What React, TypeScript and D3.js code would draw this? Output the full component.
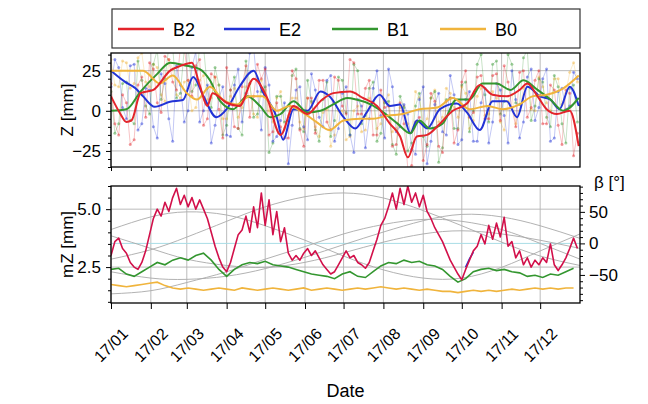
import React, { useEffect, useRef } from 'react';
import * as d3 from 'd3';

// ---- data ----
const seriesNames = ['B2', 'E2', 'B1', 'B0'];
const seriesColors = ['#e3242b', '#2233d6', '#33962f', '#f0b43c'];

const monthDays = [0, 31, 59, 90, 120, 151, 181, 212, 243, 273, 304, 334, 365];

// raw Z [mm], days 0, 6, 12, ... (A) and 3, 9, 15, ... (B)
const b2RawA = [17, -15, 5, -18, 21, 30, 5, 34, 18, 40, 19, 28, -9, 23, 1, 27, -10, 15, -4, 29, 26, -13, -10, -17, 20, -22, 8, 19, -7, 21, 3, 32, -2, 14, -15, 13, 3, -21, -8, -34, -4, -21, 6, -26, 8, -12, 25, -1, 22, -5, 23, 28, 2, 24, -4, 19, -8, 16, -9, 13, -28];
const b2RawB = [-8, 10, -21, 16, -4, 26, -1, 32, 13, 40, 9, 32, -5, 21, -17, 13, -11, 28, 9, 20, -15, 5, -17, 25, -12, 8, -14, 19, -12, 19, -2, 30, -2, 19, -15, 2, -22, 5, -36, -7, -31, 11, -22, 6, -20, 18, -4, 21, -5, 22, -6, 18, -10, 25, 2, 25, -8, 13, -21, 11, -14];
const e2RawA = [15, 27, -5, 29, -8, 13, -17, 17, -19, 16, 0, 37, 0, -20, 8, -15, 16, -7, 36, 12, 27, -19, -6, -33, 13, -10, 23, -4, 19, -19, 11, -15, 7, -23, 14, -3, 26, -13, 4, -24, 7, -33, 4, -13, 22, -21, 7, -19, 5, -20, 17, -3, 25, -17, 21, -6, 20, -19, 12, 1, 24];
const e2RawB = [32, 2, 28, -12, 14, -10, 23, -5, 28, -7, 27, -7, 16, -9, 15, -16, 26, 11, 40, -12, 16, -16, 5, -9, 15, -18, 13, -10, 22, -11, 15, -26, 3, -5, 25, -17, 15, -10, -2, -27, 15, -19, 11, -15, 10, -18, 12, -19, 14, -7, 13, -20, 7, -7, 26, 2, 26, -17, 14, 3, 20];
const b1RawA = [12, -8, 18, -8, 19, -2, 38, 20, 40, 11, 40, 16, 40, 2, 16, -9, 21, -15, 17, -2, 15, -20, 9, -6, 26, -13, 6, -19, 18, -6, 19, -15, 25, -3, 18, -14, 6, -27, 2, -20, 11, -22, 12, -23, 8, -11, 18, 0, 35, -7, 31, 6, 29, 4, 38, 3, 18, -10, 15, -20, 16];
const b1RawB = [-14, 17, -6, 31, 3, 29, 7, 40, 8, 38, 12, 40, 14, 27, -15, 13, -11, 31, -4, 12, -26, 9, -7, 22, -11, 19, -12, 7, -16, 21, -1, 29, -8, 14, -19, 5, -21, 9, -25, 3, -16, 8, -32, 7, -11, 16, -13, 29, 10, 29, -2, 35, 5, 33, -6, 20, -4, 22, -8, 14, -7];
const b0RawA = [32, 15, 30, 17, 36, 15, 27, 6, 26, 8, 19, 2, 22, 8, 16, -5, 14, 2, 17, -4, 13, -7, 12, -3, 8, -11, 5, -16, 1, -15, 0, -16, 3, -12, 5, -8, 10, -11, 3, -13, 8, -5, 13, -4, 11, -4, 11, -6, 14, -2, 8, -12, 10, 0, 17, 0, 15, 0, 20, 11, 30];
const b0RawB = [16, 31, 14, 33, 18, 29, 10, 32, 10, 18, 0, 19, 7, 21, -5, 9, -4, 15, -2, 19, 0, 8, -11, 8, -7, 8, -10, -1, -22, 0, -18, 0, -13, 8, -11, 6, -13, 2, -8, 12, -8, 8, -7, 14, 2, 15, -11, 9, -3, 12, -7, 6, -8, 14, 1, 21, 5, 20, 4, 24, 18];

// smoothed Z [mm] as [day, value]
const b2Smooth = [[0, 9], [7, -1.5], [12, -7], [16, -6], [23, 11], [33, 13], [46, 25], [54, 28], [63, 30], [69, 16], [75, 3], [79, 11], [90, 5], [100, 3], [111, 20], [121, 9], [132, -15], [142, 3], [153, -2], [163, 6], [173, 11], [186, 12], [196, 8], [207, 3], [217, -8], [225, -16], [231, -29], [238, -16], [246, -15], [256, -8], [266, 0], [277, 4.5], [287, 16], [297, 10], [308, 9], [318, 13], [324, 17], [332, 9], [339, 1], [347, -2], [357, 0], [364, -22]];
const e2Smooth = [[0, 25], [11, 18], [19, 14], [25, 9], [34, 2.5], [46, 5.6], [56, 6.7], [64, 21], [72, 9], [82, -4], [90, 1], [100, 15], [111, 25], [118, 12], [129, -4], [134, -18], [142, 1], [153, 0], [163, 12], [170, 9], [181, -4], [190, -11], [199, -1], [209, 10], [217, 3], [225, 4], [233, -14], [238, -6], [246, -11], [256, 1], [269, 4.5], [277, -1], [287, -12], [297, 6], [308, 6], [316, -4], [324, 15], [334, 9], [342, 7], [349, 1], [357, 15], [364, 3]];
const b1Smooth = [[0, 0], [12, 1], [23, 12], [36, 23], [46, 30], [59, 28], [69, 26], [77, 19], [85, 6], [95, 1], [106, 9], [116, 3], [124, -4], [132, -2], [142, 6], [153, -1], [163, 0], [173, 4], [184, 8], [191, 7], [202, 4], [212, -1], [223, -8], [233, -14], [240, -6], [248, -11], [258, -8], [269, 7], [279, 7], [289, 17], [300, 17], [311, 13], [321, 19], [332, 13], [342, 7], [352, 0], [364, 8]];
const b0Smooth = [[0, 25], [12, 25], [25, 25], [38, 17], [48, 22], [59, 11], [67, 7], [77, 15], [87, 7], [98, 4], [108, 9], [118, 9], [129, 0], [139, 3], [149, -1], [160, -7], [170, -12], [181, -6], [194, -5], [204, -5], [215, -3], [227, -2], [240, 1], [254, 2], [266, 8], [279, 1], [293, 3], [305, 1], [318, 4], [328, 9], [339, 10], [352, 14], [364, 22]];

// mZ [mm]
const b2MZ = [3.0, 3.6, 3.75, 3.3, 3.1, 2.7, 2.5, 2.4, 2.7, 3.2, 3.9, 4.6, 5.0, 4.7, 5.3, 4.9, 5.5, 5.9, 5.2, 5.6, 5.1, 5.5, 5.0, 5.4, 5.0, 4.6, 4.0, 3.4, 2.9, 2.5, 2.3, 2.7, 3.3, 3.9, 4.1, 4.7, 4.0, 5.1, 4.2, 5.7, 4.3, 5.4, 3.9, 4.9, 3.6, 4.2, 3.1, 2.8, 3.0, 2.8, 3.1, 3.3, 3.0, 3.2, 2.9, 2.6, 2.4, 2.2, 2.3, 2.6, 2.9, 3.2, 2.9, 3.0, 2.7, 2.6, 2.45, 2.7, 3.2, 3.7, 4.3, 4.6, 5.1, 5.7, 5.0, 5.9, 5.2, 6.0, 5.3, 5.7, 5.1, 5.6, 4.9, 4.6, 4.2, 3.9, 3.6, 3.2, 2.8, 2.5, 2.2, 1.95, 2.4, 2.8, 3.2, 3.4, 3.9, 3.5, 4.3, 3.7, 4.4, 3.8, 4.65, 3.4, 3.6, 2.9, 3.2, 2.6, 2.9, 2.5, 2.8, 2.6, 2.9, 2.7, 3.5, 2.6, 2.35, 2.6, 2.9, 3.3, 3.75, 3.3];
const e2MZDays = [276, 279, 282];
const e2MZ = [2.5, 2.85, 3.15];
const b1MZ = [2.4, 2.45, 2.2, 2.1, 2.3, 2.5, 2.7, 2.6, 2.8, 2.9, 2.8, 3.0, 3.1, 2.8, 2.4, 2.1, 2.4, 2.6, 2.7, 2.65, 2.75, 2.6, 2.55, 2.5, 2.4, 2.3, 2.2, 2.15, 2.1, 2.0, 2.2, 2.3, 2.1, 2.05, 2.3, 2.55, 2.7, 2.65, 2.8, 2.7, 2.75, 2.6, 2.55, 2.4, 2.1, 1.85, 2.0, 2.3, 2.4, 2.45, 2.35, 2.4, 2.3, 2.25, 2.1, 2.15, 2.05, 2.2, 2.15, 2.3, 2.45];
const b0MZ = [1.75, 1.7, 1.65, 1.7, 1.75, 1.8, 1.85, 1.7, 1.6, 1.55, 1.6, 1.55, 1.5, 1.55, 1.6, 1.55, 1.5, 1.6, 1.55, 1.5, 1.55, 1.6, 1.55, 1.5, 1.55, 1.6, 1.5, 1.55, 1.6, 1.55, 1.5, 1.55, 1.6, 1.55, 1.6, 1.65, 1.6, 1.55, 1.6, 1.55, 1.5, 1.55, 1.5, 1.45, 1.45, 1.4, 1.45, 1.5, 1.45, 1.5, 1.45, 1.5, 1.55, 1.5, 1.55, 1.6, 1.55, 1.6, 1.55, 1.6, 1.6];

// beta angle [deg] of orbital planes, at month starts
const betaP1 = [-25, -10, 10, 35, 58, 74, 80, 72, 52, 28, 2, -20, -35];
const betaP2 = [22, 42, 50, 45, 28, 5, -20, -42, -55, -55, -38, -12, 15];
const betaP3 = [-45, -55, -57, -52, -40, -22, -2, 18, 36, 46, 42, 28, 8];
const betaP4 = [12, -8, -25, -35, -38, -30, -15, 2, 15, 20, 15, 5, -8];
const betaP5 = [-80, -75, -62, -45, -25, -5, 15, 30, 38, 35, 22, 0, -25];

const zTicks = [-25, 0, 25];
const mzTicks = [2.5, 5.0];
const betaTicks = [-50, 0, 50];

const FONT = '"Liberation Sans", Arial, sans-serif';
const T0 = Date.UTC(2017, 0, 1);
const dayDate = (d: number) => new Date(T0 + d * 86400000);

const App: React.FC = () => {
  const svgRef = useRef<SVGSVGElement | null>(null);

  useEffect(() => {
    if (!svgRef.current) return;
    const svg = d3.select(svgRef.current);
    svg.selectAll('*').remove();

    const left = 111, right = 580;
    const top0 = 53, top1 = 167, bot0 = 186, bot1 = 303;

    const x = d3.scaleUtc().domain([new Date(T0), new Date(Date.UTC(2018, 0, 1))]).range([left, right]);
    const yZ = d3.scaleLinear().domain([-35, 36]).range([top1, top0]);
    const yM = d3.scaleLinear().domain([0.95, 6.0]).range([bot1, bot0]);
    const yB = d3.scaleLinear().domain([-94.5, 91]).range([bot1, bot0]);
    const months = d3.utcMonth.range(new Date(T0), new Date(Date.UTC(2018, 0, 1)));

    const defs = svg.append('defs');
    defs.append('clipPath').attr('id', 'clipTop').append('rect')
      .attr('x', left).attr('y', top0).attr('width', right - left).attr('height', top1 - top0);
    defs.append('clipPath').attr('id', 'clipBot').append('rect')
      .attr('x', left).attr('y', bot0).attr('width', right - left).attr('height', bot1 - bot0);

    // grids
    const grid = (y0: number, y1: number, ys: number[]) => {
      const g = svg.append('g').attr('stroke', '#b3b3b3').attr('stroke-width', 0.9);
      months.forEach(m => g.append('line').attr('x1', x(m)).attr('x2', x(m)).attr('y1', y0).attr('y2', y1));
      ys.forEach(v => g.append('line').attr('x1', left).attr('x2', right).attr('y1', v).attr('y2', v));
    };
    grid(top0, top1, zTicks.map(v => yZ(v)));
    grid(bot0, bot1, mzTicks.map(v => yM(v)));

    // ---- top panel ----
    const gt = svg.append('g').attr('clip-path', 'url(#clipTop)');
    const rawA = [b2RawA, e2RawA, b1RawA, b0RawA];
    const rawB = [b2RawB, e2RawB, b1RawB, b0RawB];
    const rawPts = rawA.map((a, k) => {
      const pts: [number, number][] = [];
      a.forEach((v, i) => {
        pts.push([i * 6, v]);
        if (i < rawB[k].length) pts.push([i * 6 + 3, rawB[k][i]]);
      });
      return pts;
    });
    const rawLine = d3.line<[number, number]>().x(d => x(dayDate(d[0]))).y(d => yZ(d[1]));
    [3, 2, 1, 0].forEach(k => {
      gt.append('path').attr('d', rawLine(rawPts[k]) || '')
        .attr('fill', 'none').attr('stroke', seriesColors[k]).attr('stroke-opacity', 0.3).attr('stroke-width', 0.9);
      gt.selectAll(null).data(rawPts[k]).enter().append('circle')
        .attr('cx', d => x(dayDate(d[0]))).attr('cy', d => yZ(d[1])).attr('r', 1.5)
        .attr('fill', seriesColors[k]).attr('fill-opacity', 0.45);
    });
    const smooth = [b2Smooth, e2Smooth, b1Smooth, b0Smooth];
    const smLine = d3.line<number[]>().x(d => x(dayDate(d[0]))).y(d => yZ(d[1])).curve(d3.curveMonotoneX);
    [1, 2, 3, 0].forEach(k => {
      gt.append('path').attr('d', smLine(smooth[k]) || '')
        .attr('fill', 'none').attr('stroke', seriesColors[k]).attr('stroke-width', 2).attr('stroke-linejoin', 'round');
    });

    // ---- bottom panel ----
    const gb = svg.append('g').attr('clip-path', 'url(#clipBot)');
    gb.append('line').attr('x1', left).attr('x2', right).attr('y1', yB(0)).attr('y2', yB(0))
      .attr('stroke', '#a8dde6').attr('stroke-width', 1);
    const betaLine = d3.line<number>().x((_, i) => x(dayDate(monthDays[i]))).y(d => yB(d)).curve(d3.curveNatural);
    [betaP1, betaP2, betaP3, betaP4, betaP5].forEach(b => {
      gb.append('path').attr('d', betaLine(b) || '').attr('fill', 'none')
        .attr('stroke', '#a9a9a9').attr('stroke-width', 0.9);
    });
    const mzLine = (step: number) => d3.line<number>().x((_, i) => x(dayDate(i * step))).y(d => yM(d));
    gb.append('path').attr('d', mzLine(6)(b0MZ) || '').attr('fill', 'none').attr('stroke', '#f0b43c').attr('stroke-width', 1.6);
    gb.append('path').attr('d', mzLine(6)(b1MZ) || '').attr('fill', 'none').attr('stroke', '#33962f').attr('stroke-width', 1.6);
    const e2Line = d3.line<number>().x((_, i) => x(dayDate(e2MZDays[i]))).y(d => yM(d));
    gb.append('path').attr('d', e2Line(e2MZ) || '').attr('fill', 'none').attr('stroke', '#2233d6').attr('stroke-width', 1.6);
    gb.append('path').attr('d', mzLine(3)(b2MZ) || '').attr('fill', 'none').attr('stroke', '#d2104a').attr('stroke-width', 1.6).attr('stroke-linejoin', 'round');

    // ---- axes ----
    const styleAxis = (g: d3.Selection<SVGGElement, unknown, null, undefined>) => {
      g.select('.domain').remove();
      g.selectAll('line').attr('stroke', '#000').attr('stroke-width', 1);
      g.selectAll('text').attr('font-family', FONT).attr('font-size', 17).attr('fill', '#000');
    };
    const fmtMinus = (d: number) => (d < 0 ? '\u2212' + Math.abs(d) : String(d));

    const zAx = svg.append('g').attr('transform', `translate(${left},0)`)
      .call(d3.axisLeft(yZ).tickValues(zTicks).tickSize(5).tickPadding(5).tickFormat(d => fmtMinus(+d)));
    styleAxis(zAx);
    const zMin = svg.append('g').attr('transform', `translate(${left},0)`)
      .call(d3.axisLeft(yZ).tickValues(d3.range(-35, 36, 5).filter(v => v % 25 !== 0)).tickSize(3).tickFormat(() => ''));
    styleAxis(zMin);

    const mAx = svg.append('g').attr('transform', `translate(${left},0)`)
      .call(d3.axisLeft(yM).tickValues(mzTicks).tickSize(5).tickPadding(5).tickFormat(d => (+d).toFixed(1)));
    styleAxis(mAx);
    const mMin = svg.append('g').attr('transform', `translate(${left},0)`)
      .call(d3.axisLeft(yM).tickValues(d3.range(1, 6.01, 0.5).filter(v => v !== 2.5 && v !== 5)).tickSize(3).tickFormat(() => ''));
    styleAxis(mMin);

    const bAx = svg.append('g').attr('transform', `translate(${right},0)`)
      .call(d3.axisRight(yB).tickValues(betaTicks).tickSize(5).tickPadding(4).tickFormat(d => fmtMinus(+d)));
    styleAxis(bAx);
    const bMin = svg.append('g').attr('transform', `translate(${right},0)`)
      .call(d3.axisRight(yB).tickValues(d3.range(-90, 91, 10).filter(v => v % 50 !== 0)).tickSize(3).tickFormat(() => ''));
    styleAxis(bMin);

    const xTop = svg.append('g').attr('transform', `translate(0,${top1})`)
      .call(d3.axisBottom(x).tickValues(months).tickSize(4).tickFormat(() => ''));
    styleAxis(xTop);
    const xBot = svg.append('g').attr('transform', `translate(0,${bot1})`)
      .call(d3.axisBottom(x).tickValues(months).tickSize(6).tickFormat(() => ''));
    styleAxis(xBot);

    const fmt = d3.utcFormat('%y/%m');
    svg.append('g').selectAll('text').data(months).enter().append('text')
      .attr('transform', d => `translate(${x(d)},${bot1 + 42}) rotate(-45)`)
      .attr('text-anchor', 'middle').attr('dy', '0.35em')
      .attr('font-family', FONT).attr('font-size', 16).text(d => fmt(d));

    // frames
    [[top0, top1], [bot0, bot1]].forEach(([a, b]) => {
      svg.append('rect').attr('x', left).attr('y', a).attr('width', right - left).attr('height', b - a)
        .attr('fill', 'none').attr('stroke', '#000').attr('stroke-width', 1.3);
    });

    // axis labels
    svg.append('text').attr('transform', `translate(73,${(top0 + top1) / 2}) rotate(-90)`)
      .attr('text-anchor', 'middle').attr('font-family', FONT).attr('font-size', 17).text('Z [mm]');
    svg.append('text').attr('transform', `translate(73,${(bot0 + bot1) / 2}) rotate(-90)`)
      .attr('text-anchor', 'middle').attr('font-family', FONT).attr('font-size', 17).text('mZ [mm]');
    svg.append('text').attr('x', 594).attr('y', 188).attr('font-family', FONT).attr('font-size', 17).text('β [°]');
    svg.append('text').attr('x', (left + right) / 2).attr('y', 397).attr('text-anchor', 'middle')
      .attr('font-family', FONT).attr('font-size', 18).text('Date');

    // legend
    const lg = svg.append('g');
    lg.append('rect').attr('x', 112).attr('y', 9).attr('width', 468).attr('height', 39)
      .attr('fill', '#fff').attr('stroke', '#333').attr('stroke-width', 1.2);
    const legX = [118, 224, 332, 440];
    seriesNames.forEach((n, i) => {
      lg.append('line').attr('x1', legX[i]).attr('x2', legX[i] + 46).attr('y1', 29).attr('y2', 29)
        .attr('stroke', seriesColors[i]).attr('stroke-width', 2.5);
      lg.append('text').attr('x', legX[i] + 55).attr('y', 35.5).attr('font-family', FONT)
        .attr('font-size', 18).text(n);
    });
  }, []);

  return (
    <svg ref={svgRef} width={648} height={404}
      style={{ position: 'absolute', left: 0, top: 0, display: 'block', background: '#fff' }} />
  );
};

export default App;
